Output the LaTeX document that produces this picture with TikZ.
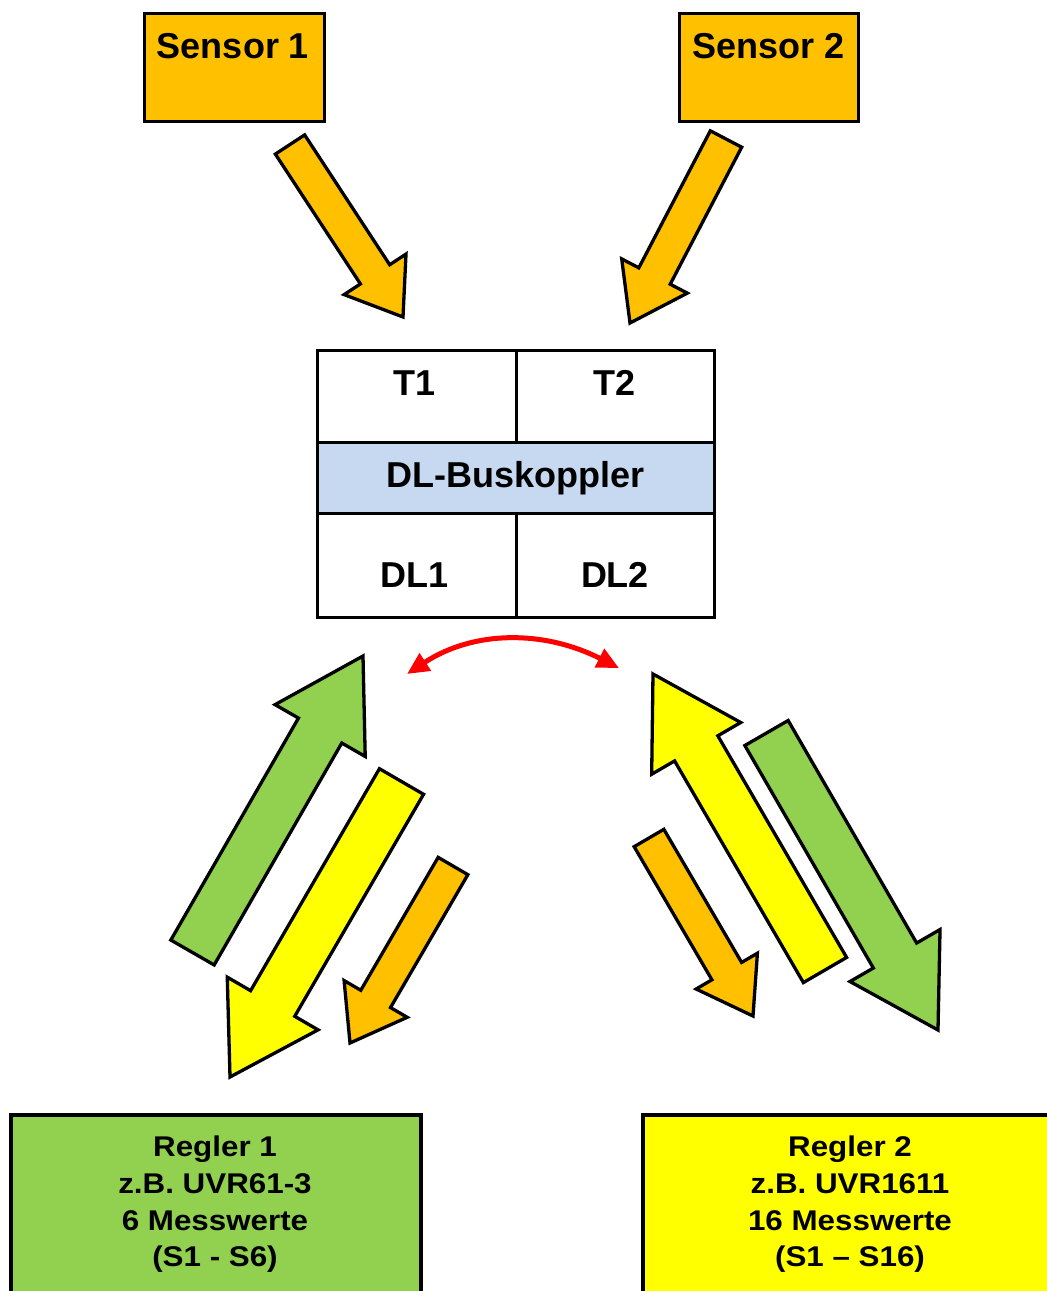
\documentclass[tikz,border=0pt]{standalone}
\usepackage{fontspec}
\setmainfont{Liberation Sans}
\newfontfamily\regfont{Liberation Sans}[FakeStretch=1.1]
\usetikzlibrary{calc,arrows.meta}
\definecolor{cOrange}{HTML}{FFC000}
\definecolor{cYellow}{HTML}{FFFF00}
\definecolor{cGreen}{HTML}{92D050}
\definecolor{cBlue}{HTML}{C6D9F1}
\definecolor{cRed}{HTML}{FF0000}
\newcommand{\blockarrow}[6]{%
  \coordinate (bT) at (#2);
  \coordinate (bP) at (#3);
  \coordinate (bH) at ($(bP)!#6!(bT)$);
  \draw[blk,fill=#1] ($(bT)!#4!90:(bP)$) -- ($(bH)!#4!-90:(bT)$) -- ($(bH)!#5!-90:(bT)$) -- (bP)
     -- ($(bH)!#5!90:(bT)$) -- ($(bH)!#4!90:(bT)$) -- ($(bT)!#4!-90:(bP)$) -- cycle;
}
\begin{document}
\begin{tikzpicture}[x=1pt,y=-1pt,
  blk/.style={draw=black,line width=3.3pt,line join=miter},
  cell/.style={draw=black,line width=3pt},
  big/.style={font=\fontsize{36}{40}\selectfont\bfseries,inner sep=0pt},
  reg/.style={font=\regfont\fontsize{28.5}{34}\selectfont\bfseries,inner sep=0pt,anchor=base}]
\clip (0,0) rectangle (1047,1291);
\fill[white] (0,0) rectangle (1047,1291);

% sensors
\node[cell,fill=cOrange,minimum width=180pt,minimum height=108pt,inner sep=0pt] (s1) at (234,67) {};
\node[big,anchor=base] (s1t) at (233,58) {Sensor 1};
\node[cell,fill=cOrange,minimum width=179pt,minimum height=108pt,inner sep=0pt] (s2) at (768.5,67) {};
\node[big,anchor=base] (s2t) at (768.5,58) {Sensor 2};

% DL-Buskoppler
\draw[cell,fill=white] (317,350) rectangle (516,442) coordinate (t1c);
\draw[cell,fill=white] (516,350) rectangle (714,442);
\draw[cell,fill=cBlue] (317,442) rectangle (714,513);
\draw[cell,fill=white] (317,513) rectangle (516,617);
\draw[cell,fill=white] (516,513) rectangle (714,617);
\node[big,anchor=base] (t1) at (415,395) {T1};
\node[big,anchor=base] (t2) at (614.5,395) {T2};
\node[big,anchor=base] (bus) at (515.5,487) {DL-Buskoppler};
\node[big,anchor=base] (dl1) at (415,587) {DL1};
\node[big,anchor=base] (dl2) at (615,587) {DL2};

% red double arrow
\coordinate (arcL) at (407,674);
\coordinate (arcR) at (619,668);
\draw[cRed,line width=5pt,{Triangle[length=22pt,width=20pt]}-{Triangle[length=22pt,width=20pt]}]
  (arcL) .. controls (474,630) and (544,630) .. (arcR);

% sensor arrows
\blockarrow{cOrange}{290,144.5}{403,317}{17.5pt}{37pt}{51pt}
\blockarrow{cOrange}{726,139}{630,323}{17.7pt}{37pt}{53pt}

% left group
\blockarrow{cGreen}{192.5,952.5}{363,656}{25pt}{52pt}{86pt}
\blockarrow{cYellow}{401.5,781.5}{230,1077}{25.5pt}{52.5pt}{85pt}
\blockarrow{cOrange}{453,866}{350,1043}{17.2pt}{36.5pt}{51pt}

% right group
\blockarrow{cYellow}{825,970}{653,674}{25pt}{51.5pt}{86pt}
\blockarrow{cGreen}{766.5,733}{938,1030}{25pt}{52pt}{86pt}
\blockarrow{cOrange}{649,838}{753,1016}{17.2pt}{35.5pt}{52pt}

% controllers
\draw[black,line width=4pt,fill=cGreen] (11,1115) rectangle (421,1400);
\draw[black,line width=4pt,fill=cYellow] (643,1115) rectangle (1057,1400);
\node[reg] (r1a) at (215,1156.7) {Regler 1};
\node[reg] (r1b) at (215,1193.3) {z.B. UVR61-3};
\node[reg] (r1c) at (215,1230.7) {6 Messwerte};
\node[reg] (r1d) at (215,1266.7) {(S1 - S6)};
\node[reg] (r2a) at (850,1156.7) {Regler 2};
\node[reg] (r2b) at (850,1193.3) {z.B. UVR1611};
\node[reg] (r2c) at (850,1230.7) {16 Messwerte};
\node[reg] (r2d) at (850,1266.7) {(S1 – S16)};
\end{tikzpicture}
\end{document}
